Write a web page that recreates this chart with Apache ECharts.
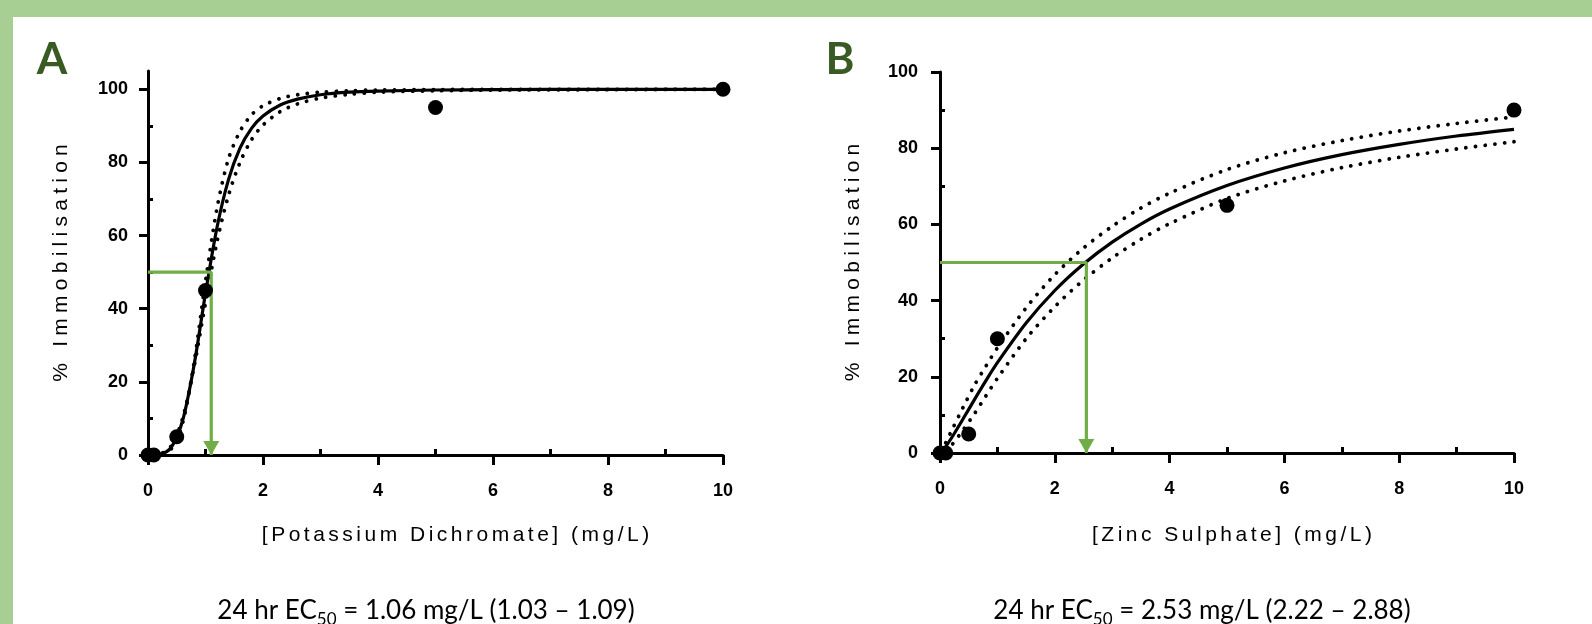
<!DOCTYPE html>
<html>
<head>
<meta charset="utf-8">
<script src="https://cdn.jsdelivr.net/npm/echarts@6/dist/echarts.min.js"></script>
<style>
html,body{margin:0;padding:0;background:#fff;}
#chart{width:1592px;height:624px;}
</style>
</head>
<body>
<div id="chart"></div>
<script>
// ---------- data ----------
const xMajorTicks = [0, 2, 4, 6, 8, 10];
const xMinorTicks = [1, 3, 5, 7, 9];
const yMajorTicks = [0, 20, 40, 60, 80, 100];
const yMinorTicks = [10, 30, 50, 70, 90];

// Panel A: Potassium dichromate
const concA = [0, 0.1, 0.5, 1, 5, 10];
const immobA = [0, 0, 5, 45, 95, 100];
const fitXA = [0.1, 0.2, 0.4, 0.6, 0.8, 1.0, 1.2, 1.4, 1.6, 1.8, 2.0, 2.3, 2.6, 3.0, 3.5, 4.0, 5.0, 6.0, 8.0, 10];
const fitA = [0.01, 0.13, 1.99, 9.31, 24.5, 44.2, 62.2, 75.3, 83.9, 89.3, 92.7, 95.7, 97.3, 98.5, 99.2, 99.5, 99.8, 99.9, 100, 100];
const upperA = [0.004, 0.07, 1.6, 8.6, 25.2, 47.5, 67.5, 81.0, 88.5, 93.0, 95.5, 97.5, 98.5, 99.2, 99.6, 99.8, 99.9, 100, 100, 100];
const lowerA = [0.015, 0.19, 2.39, 9.9, 24.0, 41.6, 58.3, 71.0, 80.0, 86.2, 90.2, 93.9, 96.0, 97.6, 98.6, 99.2, 99.6, 99.8, 99.9, 100];
const ec50LineA = [[0, 50], [1.1, 50], [1.1, 0]];

// Panel B: Zinc sulphate
const concB = [0, 0.1, 0.5, 1, 5, 10];
const immobB = [0, 0, 5, 30, 65, 90];
const fitXB = [0.1, 0.2, 0.4, 0.6, 0.8, 1.0, 1.5, 2.0, 2.5, 3.0, 3.5, 4.0, 5.0, 6.0, 7.0, 8.0, 9.0, 10];
const fitB = [1.68, 3.93, 8.91, 14.02, 18.99, 23.70, 34.1, 42.65, 49.6, 55.35, 60.1, 64.05, 70.2, 74.8, 78.3, 81.0, 83.2, 84.96];
const upperB = [2.7, 5.8, 11.9, 17.8, 22.8, 27.6, 38.1, 46.8, 53.8, 59.5, 64.3, 68.2, 74.4, 78.8, 82.0, 84.5, 86.5, 88.2];
const lowerB = [0.7, 2.0, 6.0, 10.3, 15.0, 19.6, 30.0, 38.4, 45.4, 51.2, 56.1, 60.2, 66.8, 71.4, 74.9, 77.6, 79.8, 81.7];
const ec50LineB = [[0, 50], [2.55, 50], [2.55, 0]];

const titleA = '[Potassium Dichromate] (mg/L)';
const titleB = '[Zinc Sulphate] (mg/L)';
const yTitle = '% Immobilisation';
const resultA = ['24 hr EC', '50', ' = 1.06 mg/L (1.03 \u2013 1.09)'];
const resultB = ['24 hr EC', '50', ' = 2.53 mg/L (2.22 \u2013 2.88)'];

// ---------- helpers ----------
const FONT = '"Liberation Sans", Arial, sans-serif';
const RFONT = 'Lato, "Open Sans", sans-serif';
const GREEN = '#70ad47';
const BAND = '#a8cf93';
const DARK = '#3a5a24';
function spaced(s, sp) { return s.split('').join(sp); }
function zip(xs, ys) { return xs.map((x, i) => [x, ys[i]]); }

function axesFor(grid, yMax, xName, nameGapX, nameGapY, labelMarginY, namePadX) {
  const tickStyle = { color: '#000', width: 3 };
  const x = {
    type: 'value', gridIndex: grid, min: 0, max: 10,
    axisLine: { show: true, onZero: false, lineStyle: { color: '#000', width: 3 } },
    axisTick: { show: true, length: 10, lineStyle: tickStyle, customValues: xMajorTicks },
    axisLabel: { show: true, customValues: xMajorTicks, margin: 27, fontSize: 18, fontWeight: 'bold', color: '#000', fontFamily: FONT },
    splitLine: { show: false },
    name: spaced(xName, '\u2006'), nameLocation: 'middle', nameGap: nameGapX,
    nameTextStyle: { fontSize: 21, color: '#000', fontFamily: FONT, padding: [0, 0, 0, namePadX] }
  };
  const xMinor = {
    type: 'value', gridIndex: grid, min: 0, max: 10,
    axisLine: { show: false },
    axisTick: { show: true, length: 6, lineStyle: tickStyle, customValues: xMinorTicks },
    axisLabel: { show: false }, splitLine: { show: false }
  };
  const y = {
    type: 'value', gridIndex: grid, min: 0, max: yMax,
    axisLine: { show: true, onZero: false, lineStyle: { color: '#000', width: 3 } },
    axisTick: { show: true, length: 9, lineStyle: tickStyle, customValues: yMajorTicks },
    axisLabel: { show: true, customValues: yMajorTicks, margin: labelMarginY, fontSize: 18, fontWeight: 'bold', color: '#000', fontFamily: FONT },
    splitLine: { show: false },
    name: spaced(yTitle, '\u2005'), nameLocation: 'middle', nameGap: nameGapY,
    nameTextStyle: { fontSize: 21, color: '#000', fontFamily: FONT }
  };
  const yMinor = {
    type: 'value', gridIndex: grid, min: 0, max: yMax,
    axisLine: { show: false },
    axisTick: { show: true, length: 5, lineStyle: tickStyle, customValues: yMinorTicks },
    axisLabel: { show: false }, splitLine: { show: false }
  };
  return { x: [x, xMinor], y: [y, yMinor] };
}

const axA = axesFor(0, 105, titleA, 70, 76, 20, 40);
const axB = axesFor(1, 100, titleB, 72, 76, 22, 10);

function curve(data, xi, dotted) {
  return {
    type: 'line', xAxisIndex: xi, yAxisIndex: xi, data: data,
    showSymbol: false, symbol: 'none', smooth: 0.3,
    lineStyle: dotted
      ? { color: '#000', width: 3.8, type: [0.1, 9.6], cap: 'round' }
      : { color: '#000', width: 3.2 },
    silent: true, z: 2
  };
}
function arrow(pts, xi) {
  return {
    type: 'line', xAxisIndex: xi, yAxisIndex: xi,
    data: pts.map((p, i) => i === pts.length - 1
      ? { value: p, symbol: 'triangle', symbolRotate: 180, symbolSize: [16, 14], symbolOffset: [0, -7] }
      : { value: p, symbol: 'none' }),
    showSymbol: true, lineStyle: { color: GREEN, width: 3.2 },
    itemStyle: { color: GREEN, opacity: 1 }, z: 3, silent: true, clip: false
  };
}
function dots(xs, ys, xi) {
  return {
    type: 'scatter', xAxisIndex: xi, yAxisIndex: xi, data: zip(xs, ys),
    symbol: 'circle', symbolSize: 15, itemStyle: { color: '#000', opacity: 1 }, z: 4, clip: false
  };
}

const richRes = {
  n: { fontSize: 26, fontFamily: RFONT, color: '#000', lineHeight: 28, verticalAlign: 'top' },
  s: { fontSize: 17, fontFamily: RFONT, color: '#000', lineHeight: 18, verticalAlign: 'top', padding: [13, 0, 0, 0] }
};
function resText(p) { return '{n|' + p[0] + '}{s|' + p[1] + '}{n|' + p[2] + '}'; }

const chart = echarts.init(document.getElementById('chart'), null, { renderer: 'canvas' });
chart.setOption({
  backgroundColor: '#fff',
  animation: false,
  grid: [
    { left: 148, top: 71, width: 575, height: 384, containLabel: false, outerBoundsMode: 'none' },
    { left: 940, top: 72, width: 574, height: 381, containLabel: false, outerBoundsMode: 'none' }
  ],
  xAxis: [...axA.x, ...axB.x],
  yAxis: [...axA.y, ...axB.y],
  series: [
    curve(zip(fitXA, upperA), 0, true),
    curve(zip(fitXA, lowerA), 0, true),
    curve(zip(fitXA, fitA), 0, false),
    arrow(ec50LineA, 0),
    dots(concA, immobA, 0),
    curve(zip(fitXB, upperB), 2, true),
    curve(zip(fitXB, lowerB), 2, true),
    curve(zip(fitXB, fitB), 2, false),
    arrow(ec50LineB, 2),
    dots(concB, immobB, 2)
  ],
  graphic: [
    { type: 'rect', left: 0, top: 0, shape: { width: 1592, height: 17 }, style: { fill: BAND }, z: 0, silent: true },
    { type: 'rect', left: 0, top: 0, shape: { width: 13, height: 624 }, style: { fill: BAND }, z: 0, silent: true },
    { type: 'text', x: 52, y: 60, style: { text: 'A', font: 'bold 44px ' + RFONT, fill: DARK, align: 'center', verticalAlign: 'middle' } },
    { type: 'text', x: 840, y: 60, style: { text: 'B', font: 'bold 44px ' + RFONT, fill: DARK, align: 'center', verticalAlign: 'middle' } },
    { type: 'text', x: 426, y: 612, style: { text: resText(resultA), rich: richRes, align: 'center', verticalAlign: 'middle' } },
    { type: 'text', x: 1202, y: 612, style: { text: resText(resultB), rich: richRes, align: 'center', verticalAlign: 'middle' } }
  ]
});
</script>
</body>
</html>
